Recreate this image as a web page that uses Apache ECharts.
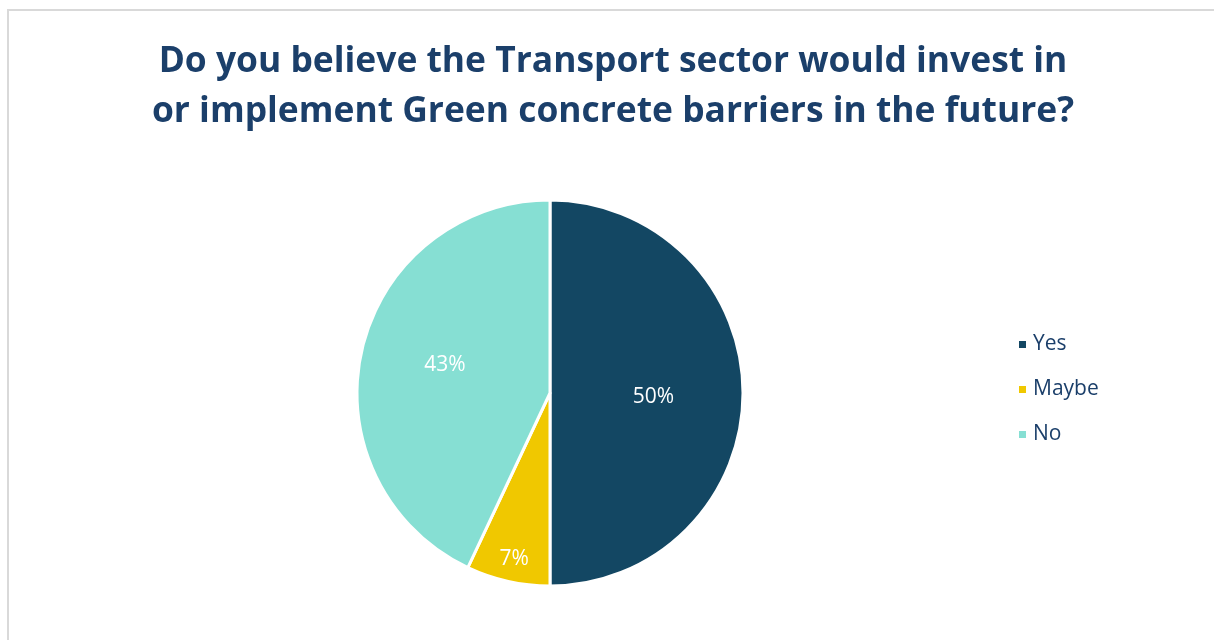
<!DOCTYPE html>
<html>
<head>
<meta charset="utf-8">
<script src="https://cdn.jsdelivr.net/npm/echarts@6/dist/echarts.min.js"></script>
<style>
  html, body { margin: 0; padding: 0; background: #fff; }
  #frame { position: absolute; left: 7px; top: 9px; width: 1220px; height: 650px; border: 2px solid #d9d9d9; box-sizing: border-box; }
  #chart { position: absolute; left: 0; top: 0; width: 1214px; height: 640px; }
</style>
</head>
<body>
<div id="frame"></div>
<div id="chart"></div>
<script>
const titleText = 'Do you believe the Transport sector would invest in\nor implement Green concrete barriers in the future?';
const categories = ['Yes', 'Maybe', 'No'];
const shares = [50, 7, 43];
const colors = ['#134763', '#f0c800', '#86dfd3'];

const chart = echarts.init(document.getElementById('chart'), null, { renderer: 'canvas' });

const pieData = categories.map((name, i) => {
  const item = { name: name, value: shares[i], itemStyle: { color: colors[i] } };
  if (name === 'Maybe') item.label = { offset: [-14, 69] };
  if (name === 'Yes') item.label = { offset: [4, 4] };
  if (name === 'No') item.label = { offset: [-8, -6] };
  return item;
});

chart.setOption({
  backgroundColor: 'transparent',
  animation: false,
  title: {
    text: titleText,
    left: 608,
    top: 32,
    textAlign: 'center',
    textStyle: {
      fontFamily: 'Open Sans',
      fontWeight: 'bold',
      fontSize: 35.4,
      lineHeight: 50,
      color: '#1b3f6a'
    }
  },
  legend: {
    orient: 'vertical',
    left: 1012,
    top: 329,
    itemWidth: 9,
    itemHeight: 9,
    itemGap: 24,
    icon: 'rect',
    data: categories,
    textStyle: { fontFamily: 'Open Sans', fontSize: 21, color: '#1b3f6a', padding: [0, 0, 0, 1] }
  },
  series: [{
    type: 'pie',
    center: [550, 393],
    radius: 193,
    startAngle: 90,
    clockwise: true,
    data: pieData,
    itemStyle: { borderColor: '#ffffff', borderWidth: 3 },
    label: {
      show: true,
      position: 'inside',
      formatter: '{c}%',
      fontFamily: 'Open Sans',
      fontSize: 21,
      color: '#ffffff'
    },
    labelLine: { show: false },
    emphasis: { disabled: true }
  }]
});
</script>
</body>
</html>
